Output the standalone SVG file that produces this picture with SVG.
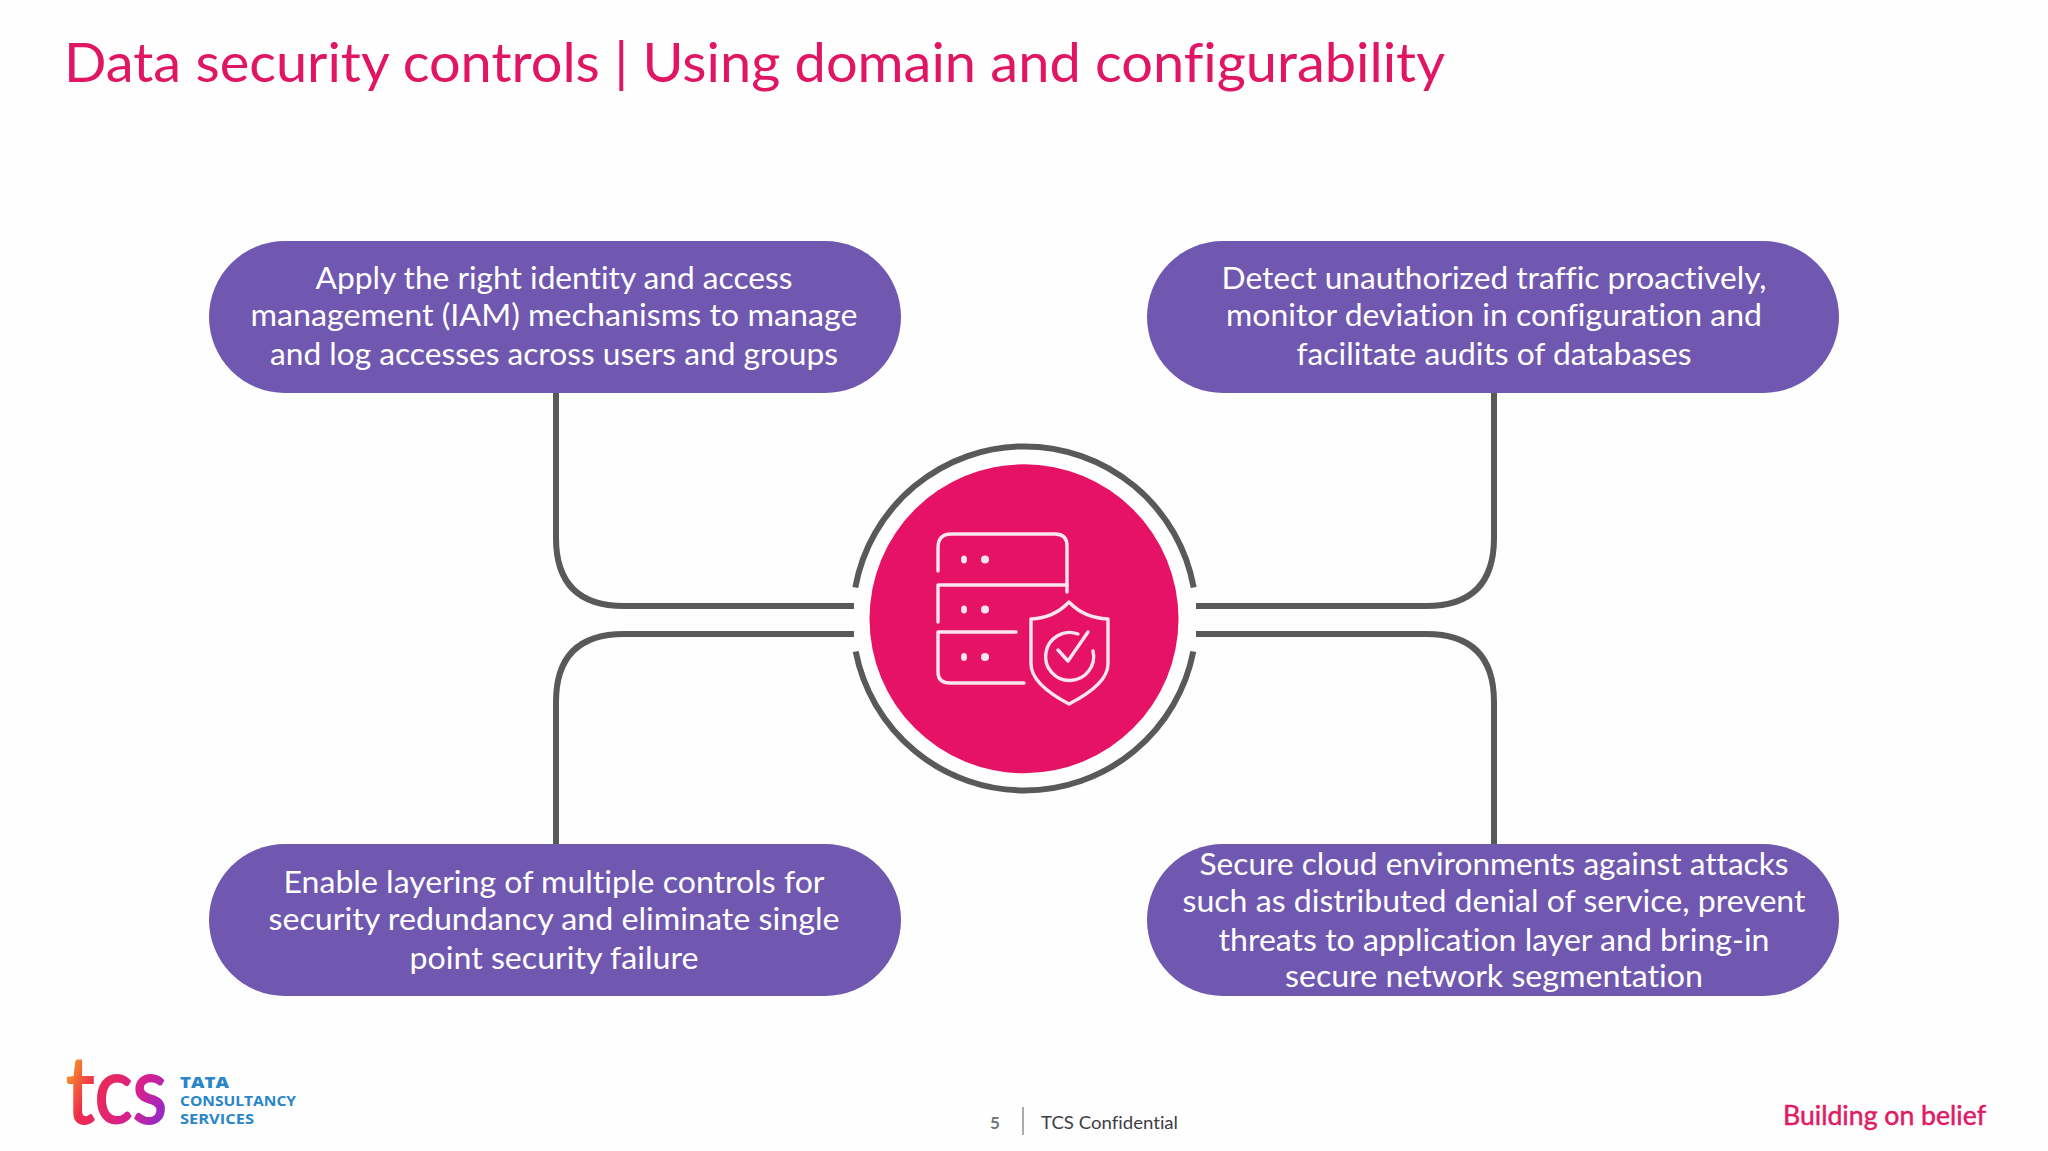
<svg xmlns="http://www.w3.org/2000/svg" width="2048" height="1151" viewBox="0 0 2048 1151">
<style>
text{font-variant-ligatures:none}
.pill{fill:#7058b0}
.pt{font-family:Lato,"Open Sans",sans-serif;font-size:31px;fill:#fff;text-anchor:middle}
.conn{fill:none;stroke:#58595b;stroke-width:6}
.ic{fill:none;stroke:#fbe6ef;stroke-width:3.4;stroke-linecap:round;stroke-linejoin:round}
.dot{fill:#fbe6ef}
.logo{font-family:"Open Sans",sans-serif;font-size:15px;fill:#2a86c8}
</style>
<defs>
<linearGradient id="lg" gradientUnits="userSpaceOnUse" x1="0" y1="-62" x2="115" y2="2"><stop offset="0" stop-color="#f7a823"/><stop offset=".3" stop-color="#ee2b4d"/><stop offset=".7" stop-color="#d6208f"/><stop offset="1" stop-color="#8a2bd0"/></linearGradient>
</defs>
<rect width="2048" height="1151" fill="#fefefe"/>
<text id="title" x="64" y="82" font-family="Lato,sans-serif" font-size="54" fill="#e01563" textLength="1381" lengthAdjust="spacingAndGlyphs">Data security controls | Using domain and configurability</text>
<g id="connectors">
<path class="conn" d="M556 393V538Q556 606 624 606H854"/>
<path class="conn" d="M1494 393V538Q1494 606 1426 606H1196"/>
<path class="conn" d="M556 844V702Q556 634 624 634H854"/>
<path class="conn" d="M1494 844V702Q1494 634 1426 634H1196"/>
</g>
<g id="hub">
<path class="conn" d="M855.300 587.500A172 172 0 0 1 1193.700 587.500"/>
<path class="conn" d="M855.700 651.500A172 172 0 0 0 1193.300 651.500"/>
<circle cx="1024" cy="618.800" r="154.500" fill="#e51265"/>
<g id="icon">
<path class="ic" d="M938 571V548Q938 534 951 534H1055Q1067 534 1067 546V592"/>
<path class="ic" d="M938 622V585H1067"/>
<path class="ic" d="M1016 632H938V672Q938 683 950 683H1024"/>
<path class="ic" d="M1069 602Q1054 618 1031 619V664Q1031 684 1069 704Q1108 684 1108 664V619Q1084 618 1069 602Z"/>
<path class="ic" d="M1078 634A24 24 0 1 0 1093 651"/>
<path class="ic" d="M1058 650L1068 661L1088 632"/>
<ellipse class="dot" cx="964" cy="559.500" rx="3" ry="4"/><circle class="dot" cx="985" cy="559.500" r="4"/>
<ellipse class="dot" cx="964" cy="609.500" rx="3" ry="4"/><circle class="dot" cx="985" cy="609.500" r="4"/>
<ellipse class="dot" cx="964" cy="657" rx="3" ry="4"/><circle class="dot" cx="985" cy="657" r="4"/>
</g>
</g>
<g id="n1"><rect class="pill" x="209" y="241" width="692" height="152" rx="76"/>
<text class="pt" x="554" y="289" textLength="477" lengthAdjust="spacingAndGlyphs">Apply the right identity and access</text>
<text class="pt" x="554" y="326" textLength="607" lengthAdjust="spacingAndGlyphs">management (IAM) mechanisms to manage</text>
<text class="pt" x="554" y="365" textLength="568" lengthAdjust="spacingAndGlyphs">and log accesses across users and groups</text></g>
<g id="n2"><rect class="pill" x="1147" y="241" width="692" height="152" rx="76"/>
<text class="pt" x="1494" y="289" textLength="545" lengthAdjust="spacingAndGlyphs">Detect unauthorized traffic proactively,</text>
<text class="pt" x="1494" y="326" textLength="536" lengthAdjust="spacingAndGlyphs">monitor deviation in configuration and</text>
<text class="pt" x="1494" y="365" textLength="395" lengthAdjust="spacingAndGlyphs">facilitate audits of databases</text></g>
<g id="n3"><rect class="pill" x="209" y="844" width="692" height="152" rx="76"/>
<text class="pt" x="554" y="893" textLength="541" lengthAdjust="spacingAndGlyphs">Enable layering of multiple controls for</text>
<text class="pt" x="554" y="930" textLength="571" lengthAdjust="spacingAndGlyphs">security redundancy and eliminate single</text>
<text class="pt" x="554" y="969" textLength="289" lengthAdjust="spacingAndGlyphs">point security failure</text></g>
<g id="n4"><rect class="pill" x="1147" y="844" width="692" height="152" rx="76"/>
<text class="pt" x="1494" y="875" textLength="589" lengthAdjust="spacingAndGlyphs">Secure cloud environments against attacks</text>
<text class="pt" x="1494" y="912" textLength="623" lengthAdjust="spacingAndGlyphs">such as distributed denial of service, prevent</text>
<text class="pt" x="1494" y="951" textLength="551" lengthAdjust="spacingAndGlyphs">threats to application layer and bring-in</text>
<text class="pt" x="1494" y="987" textLength="418" lengthAdjust="spacingAndGlyphs">secure network segmentation</text></g>
<g id="logo">
<text transform="translate(66 1123) scale(.85 1)" font-family="Lato,sans-serif" font-size="94" fill="url(#lg)" stroke="url(#lg)" stroke-width="2">tcs</text>
<text class="logo" x="180" y="1088" font-weight="800" textLength="49" lengthAdjust="spacingAndGlyphs">TATA</text>
<text class="logo" x="180" y="1106" font-weight="700" textLength="116" lengthAdjust="spacingAndGlyphs">CONSULTANCY</text>
<text class="logo" x="180" y="1124" font-weight="700" textLength="74" lengthAdjust="spacingAndGlyphs">SERVICES</text>
</g>
<g id="footer">
<text x="990" y="1129" font-family="Lato,sans-serif" font-size="17" font-weight="700" fill="#77777a">5</text>
<path d="M1023 1107V1135" stroke="#8f8f93" stroke-width="1.500"/>
<text x="1041" y="1129" font-family="Lato,sans-serif" font-size="18" fill="#3d3d45" textLength="137" lengthAdjust="spacingAndGlyphs">TCS Confidential</text>
<text x="1783" y="1125" font-family="Lato,sans-serif" font-size="26" fill="#df1a66" stroke="#df1a66" stroke-width=".5" textLength="203" lengthAdjust="spacingAndGlyphs">Building on belief</text>
</g>
</svg>
